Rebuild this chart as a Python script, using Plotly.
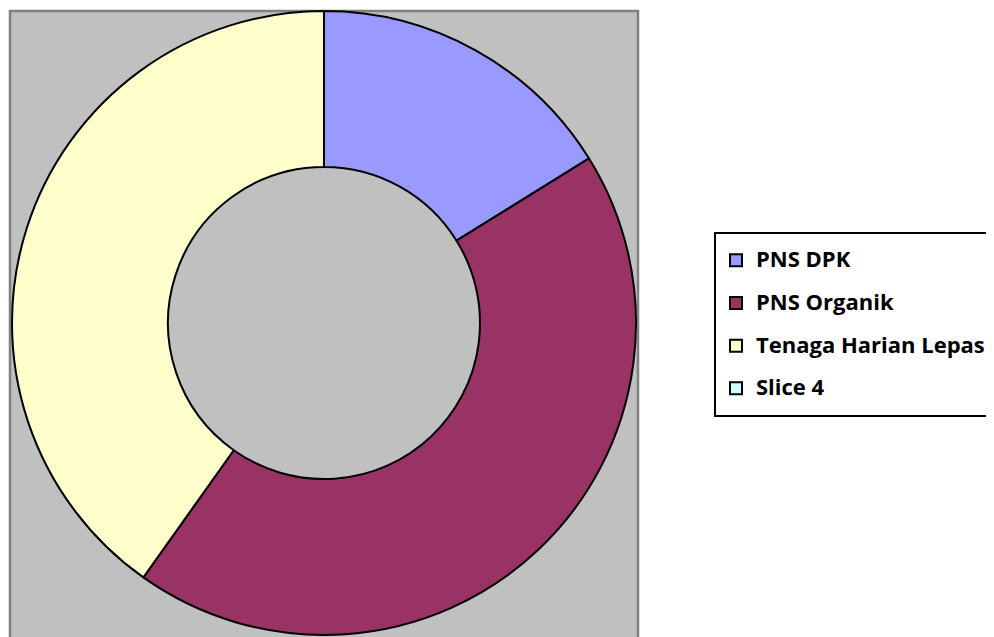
import plotly.graph_objects as go

labels = ["PNS DPK", "PNS Organik", "Tenaga Harian Lepas", "Slice 4"]
values = [37, 100, 92, 0]
colors = ["#9999FF", "#993366", "#FFFFCC", "#CCFFFF"]

W, H = 994, 637
OFF = 8  # page body margin

def px(x):
    return (x - OFF) / W

def py(y):
    return 1 - (y - OFF) / H

fig = go.Figure()
fig.add_trace(go.Pie(
    labels=[f'<span style="font-size:22px;baseline-shift:5px">{l}</span>' for l in labels],
    values=values,
    hole=0.5,
    sort=False,
    direction="clockwise",
    rotation=0,
    textinfo="none",
    hoverinfo="label+value+percent",
    marker=dict(colors=colors, line=dict(color="black", width=2)),
    domain=dict(x=[px(12), px(636)], y=[py(635), py(11)]),
))

fig.update_layout(
    width=W, height=H,
    margin=dict(l=0, r=0, t=0, b=0),
    paper_bgcolor="white",
    plot_bgcolor="white",
    font=dict(family="Open Sans", color="black"),
    shapes=[dict(
        type="rect", xref="paper", yref="paper",
        x0=px(10), x1=px(638), y0=-0.05, y1=py(11),
        fillcolor="#C0C0C0", line=dict(color="#808080", width=2.5),
        layer="below",
    )],
    legend=dict(
        x=px(714), y=py(232), xanchor="left", yanchor="top",
        bgcolor="white", bordercolor="black", borderwidth=2,
        font=dict(family="Open Sans", size=30.5, color="black", weight="bold"),
        itemclick=False,
    ),
)

fig.write_html("out.html")
